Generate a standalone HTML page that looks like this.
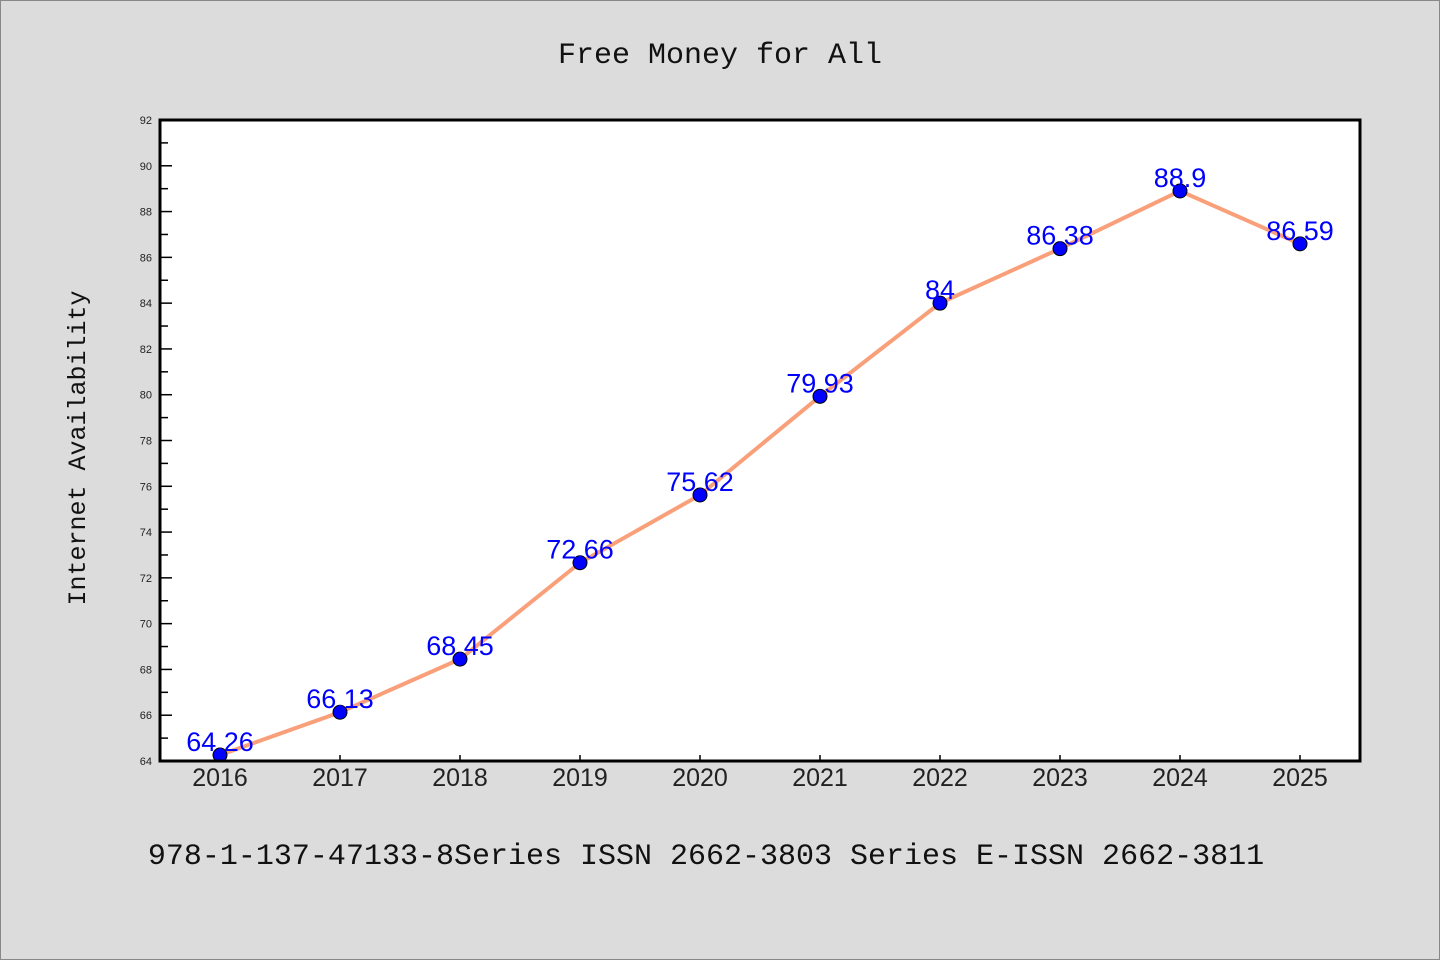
<!DOCTYPE html>
<html><head><meta charset="utf-8"><style>
body{margin:0;background:#dcdcdc;}
svg{display:block;}
</style></head><body>
<svg width="1440" height="960" xmlns="http://www.w3.org/2000/svg">
<rect x="0.5" y="0.5" width="1439" height="959" fill="#dcdcdc" stroke="#888"/>
<text x="720" y="63" text-anchor="middle" font-family="Liberation Mono, monospace" font-size="30" fill="#111">Free Money for All</text>
<rect x="160" y="120" width="1200" height="641" fill="#fff"/>
<g id="yticks"></g><g id="xticks"></g>
<polyline id="line" fill="none" stroke="#f9a07a" stroke-width="4"/>
<g id="points"></g>
<rect x="160" y="120" width="1200" height="641" fill="none" stroke="#000" stroke-width="3"/>
<text transform="translate(85,448) rotate(-90)" text-anchor="middle" font-family="Liberation Mono, monospace" font-size="25" fill="#111">Internet Availability</text>
<text x="706" y="864" text-anchor="middle" font-family="Liberation Mono, monospace" font-size="30" fill="#111">978-1-137-47133-8Series ISSN 2662-3803 Series E-ISSN 2662-3811</text>
</svg>
<script>
const categories=["2016","2017","2018","2019","2020","2021","2022","2023","2024","2025"];
const values=[64.26,66.13,68.45,72.66,75.62,79.93,84,86.38,88.9,86.59];
const valueLabels=["64.26","66.13","68.45","72.66","75.62","79.93","84","86.38","88.9","86.59"];
const yTicks=[64,66,68,70,72,74,76,78,80,82,84,86,88,90,92];
{
const NS="http://www.w3.org/2000/svg";
const yMin=64,yMax=92,pTop=120,pBot=761,pLeft=160,pRight=1360;
const y=v=>pBot-(v-yMin)/(yMax-yMin)*(pBot-pTop);
const x=i=>pLeft+(pRight-pLeft)/categories.length*(i+0.5);
function mk(t,a,p){const e=document.createElementNS(NS,t);for(const k in a)e.setAttribute(k,a[k]);p.appendChild(e);return e;}
const yg=document.getElementById('yticks');
yTicks.forEach((v,i)=>{
 const l=mk('line',{x1:pLeft,x2:pLeft+12,y1:y(v),y2:y(v),stroke:'#000','stroke-width':1.5},yg);
 
 
 const t=mk('text',{x:pLeft-8,y:y(v)+4,'text-anchor':'end','font-family':'Liberation Sans, sans-serif','font-size':11,fill:'#222'},yg);
 t.textContent=v;
 
 
 if(i<yTicks.length-1){const m=mk('line',{x1:pLeft,x2:pLeft+8,y1:y(v+1),y2:y(v+1),stroke:'#000','stroke-width':1.5},yg);
 
 }
});
const xg=document.getElementById('xticks');
categories.forEach((c,i)=>{
 const l=mk('line',{x1:x(i),x2:x(i),y1:pBot,y2:pBot-6,stroke:'#000','stroke-width':1.5},xg);
 
 
 const t=mk('text',{x:x(i),y:pBot+25,'text-anchor':'middle','font-family':'Liberation Sans, sans-serif','font-size':25,fill:'#222'},xg);
 t.textContent=c;
 
 
});
document.getElementById('line').setAttribute('points',values.map((v,i)=>x(i)+','+y(v)).join(' '));
const pg=document.getElementById('points');
values.forEach((v,i)=>{
 const c=mk('circle',{cx:x(i),cy:y(v),r:7,fill:'#0000ff',stroke:'#000','stroke-width':1},pg);
 
 
 const t=mk('text',{x:x(i),y:y(v)-4,'text-anchor':'middle','font-family':'Liberation Sans, sans-serif','font-size':27,fill:'#0000ff'},pg);
 t.textContent=valueLabels[i];
 
 
});
}
</script>
</body></html>
